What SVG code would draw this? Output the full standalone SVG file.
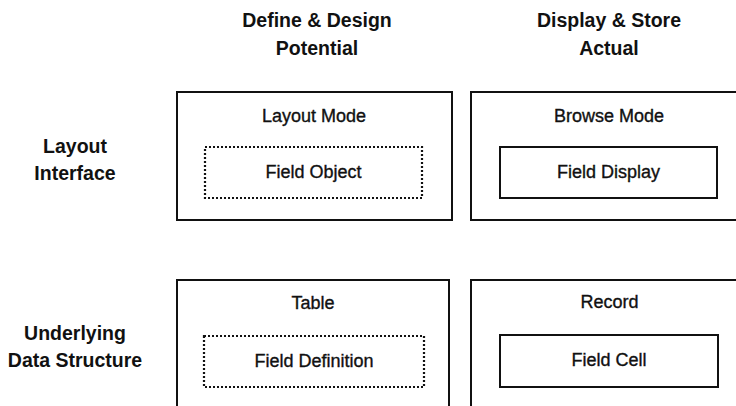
<svg xmlns="http://www.w3.org/2000/svg" width="736" height="406" viewBox="0 0 736 406">
<style>
.hdr{font-family:"Liberation Sans",Arial,sans-serif;font-weight:bold;font-size:19.5px;fill:#111;text-anchor:middle}
.lbl{font-family:"Liberation Sans",Arial,sans-serif;font-size:18px;fill:#111;stroke:#111;stroke-width:0.35;text-anchor:middle}
.outer{fill:none;stroke:#111;stroke-width:2}
.solid{fill:none;stroke:#111;stroke-width:2}
.dot{fill:none;stroke:#111;stroke-width:2.2;stroke-dasharray:2 2}
</style>
<rect width="736" height="406" fill="#fff"/>
<g id="col-headers">
<text class="hdr" x="317" y="27">Define &amp; Design</text>
<text class="hdr" x="317" y="55">Potential</text>
<text class="hdr" x="609" y="27">Display &amp; Store</text>
<text class="hdr" x="609" y="55">Actual</text>
</g>
<g id="row-headers">
<text class="hdr" x="75" y="153">Layout</text>
<text class="hdr" x="75" y="180">Interface</text>
<text class="hdr" x="75" y="340">Underlying</text>
<text class="hdr" x="75" y="367">Data Structure</text>
</g>
<g id="layout-mode">
<rect class="outer" x="177" y="92" width="275" height="128"/>
<text class="lbl" x="314" y="122">Layout Mode</text>
<g id="field-object">
<rect class="dot" x="205" y="147" width="217" height="51"/>
<text class="lbl" x="313.5" y="178">Field Object</text>
</g>
</g>
<g id="browse-mode">
<rect class="outer" x="471" y="92" width="275" height="128"/>
<text class="lbl" x="609" y="122">Browse Mode</text>
<g id="field-display">
<rect class="solid" x="500" y="147" width="217" height="51"/>
<text class="lbl" x="608.5" y="178">Field Display</text>
</g>
</g>
<g id="table">
<rect class="outer" x="177" y="280" width="272" height="140"/>
<text class="lbl" x="313" y="309">Table</text>
<g id="field-definition">
<rect class="dot" x="204" y="336" width="220" height="51"/>
<text class="lbl" x="314" y="367">Field Definition</text>
</g>
</g>
<g id="record">
<rect class="outer" x="471" y="280" width="275" height="140"/>
<text class="lbl" x="609.5" y="308">Record</text>
<g id="field-cell">
<rect class="solid" x="500" y="335" width="218" height="52"/>
<text class="lbl" x="609" y="366">Field Cell</text>
</g>
</g>
<g id="connectors"/>
</svg>
